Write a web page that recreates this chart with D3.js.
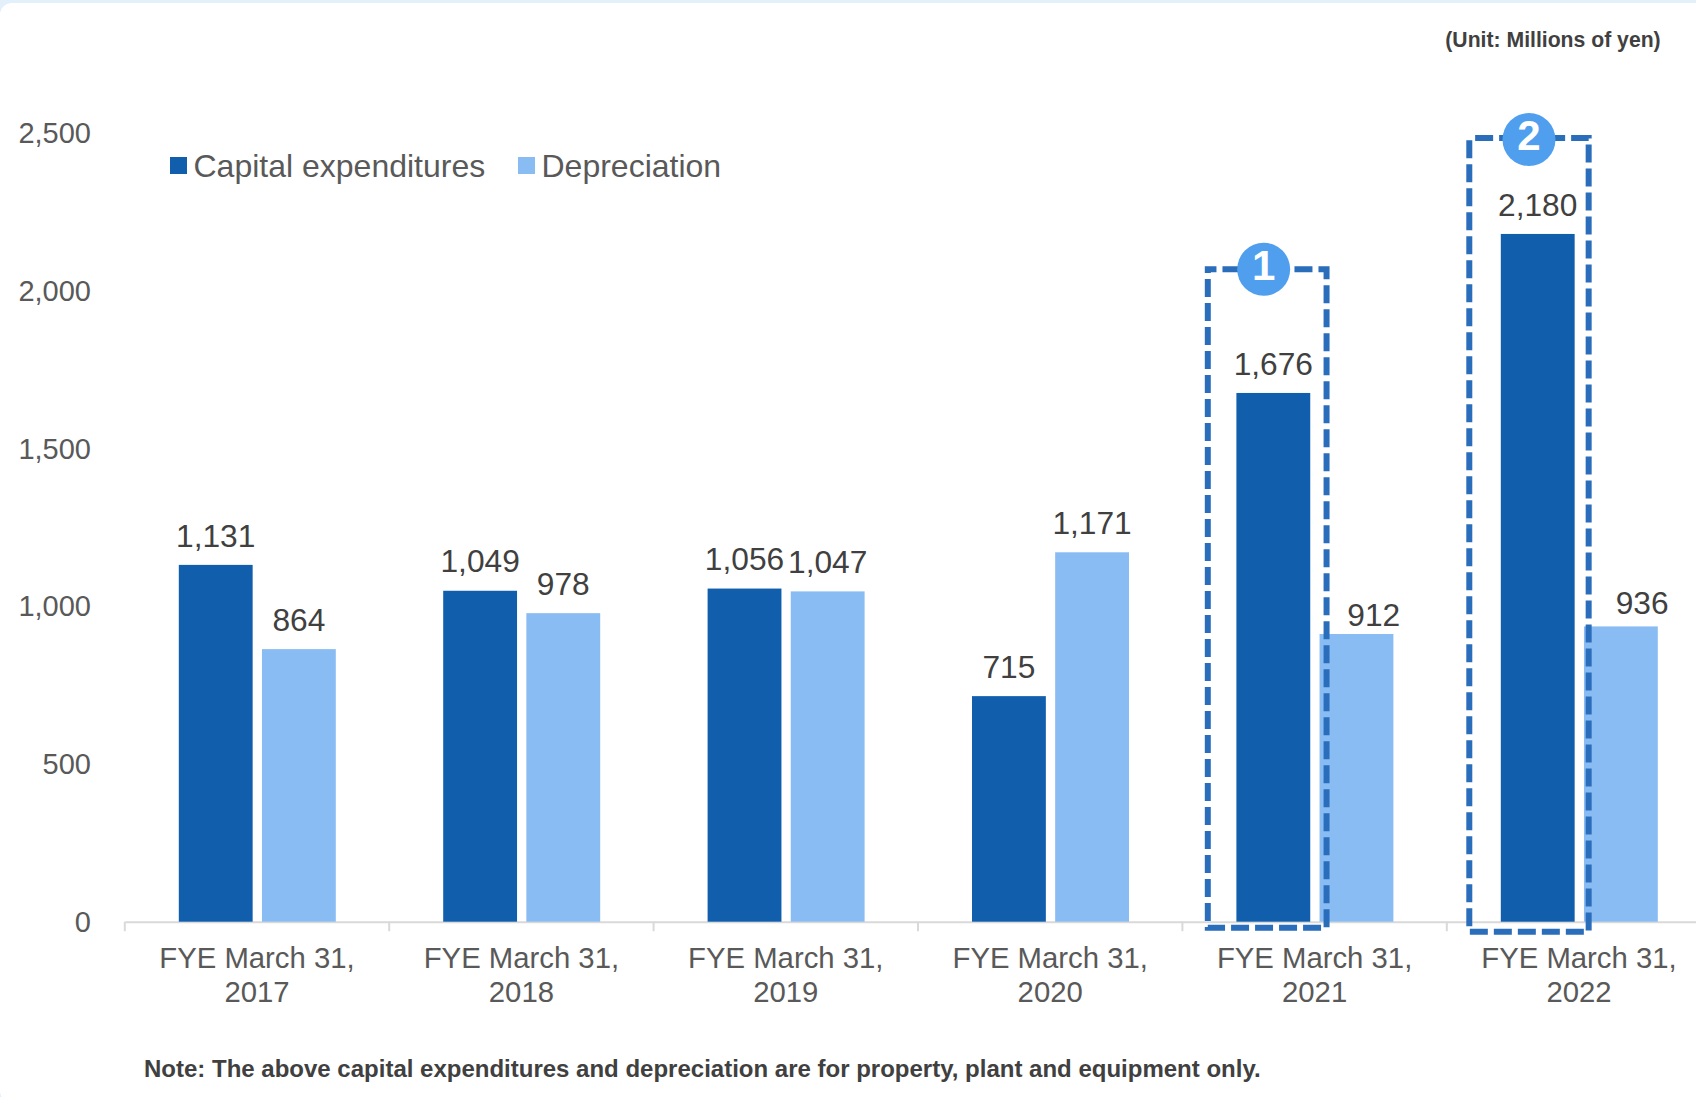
<!DOCTYPE html>
<html>
<head>
<meta charset="utf-8">
<script src="https://cdn.jsdelivr.net/npm/d3@7"></script>
<style>
html, body { margin: 0; padding: 0; background: #E3F0FC; overflow: hidden; }
text { font-family: "Liberation Sans", Arial, sans-serif; }
</style>
</head>
<body>
<div id="chart"></div>
<script>
const categories = ["2017", "2018", "2019", "2020", "2021", "2022"];
const seriesNames = ["Capital expenditures", "Depreciation"];
const capex = [1131, 1049, 1056, 715, 1676, 2180];
const depreciation = [864, 978, 1047, 1171, 912, 936];
const yTicks = [0, 500, 1000, 1500, 2000, 2500];
const highlightYears = ["2021", "2022"];
const highlightLabels = ["1", "2"];
const highlightTops = [2068, 2484];

const svgAttr = { width: 1696, height: 1097 };
const plot = { left: 124.8, right: 1711.2, top: 133, bottom: 921.7 };
const colors = {
    capex: "#115EAC",
    depreciation: "#8ABCF4",
    dash: "#2A6EBB",
    badge: "#4F9FEE",
    axis: "#D9D9D9",
    tick: "#595959",
    value: "#404040"
};

// the two depreciation labels pushed aside by the dashed boxes
const labelNudge = { 912: [17.3, 10.8], 936: [21.3, 6.3] };

const svg = d3.select("#chart")
              .append("svg")
              .attr("width", svgAttr.width)
              .attr("height", svgAttr.height)
              .style("display", "block");

// white card on the pale blue page
svg.append("rect")
   .attr("x", 0)
   .attr("y", 3)
   .attr("width", svgAttr.width + 20)
   .attr("height", svgAttr.height + 3)
   .attr("rx", 12)
   .attr("fill", "#FFFFFF");

const x0 = d3.scaleBand()
             .domain(categories)
             .range([plot.left, plot.right]);

const x1 = d3.scaleBand()
             .domain(seriesNames)
             .range([54, x0.bandwidth() - 53.4])
             .paddingInner(0.112);

const y = d3.scaleLinear()
            .domain([0, 2500])
            .range([plot.bottom, plot.top]);

// y axis
const yAxis = svg.append("g")
                 .attr("transform", `translate(${plot.left},0)`)
                 .call(d3.axisLeft(y).tickValues(yTicks).tickSize(0).tickPadding(33.8).tickFormat(d3.format(",")));
yAxis.select(".domain").remove();
yAxis.selectAll("text")
     .attr("dy", "0.33em")
     .attr("font-size", 29)
     .attr("fill", colors.tick)
     .style("font-family", '"Liberation Sans", Arial, sans-serif');

// x axis, the ticks sit on the band edges
const xAxis = svg.append("g")
                 .attr("transform", `translate(0,${plot.bottom})`)
                 .call(d3.axisBottom(x0).tickSize(0).tickFormat(""));
xAxis.select(".domain")
     .attr("stroke", colors.axis)
     .attr("stroke-width", 2);
xAxis.selectAll(".tick text").remove();

categories.forEach(d => {
    xAxis.append("line")
         .attr("x1", x0(d))
         .attr("x2", x0(d))
         .attr("y1", 0)
         .attr("y2", 9.5)
         .attr("stroke", colors.axis)
         .attr("stroke-width", 2);

    const label = xAxis.append("text")
                       .attr("text-anchor", "middle")
                       .attr("font-size", 29.3)
                       .attr("fill", colors.tick);
    label.append("tspan")
         .attr("x", x0(d) + x0.bandwidth() / 2)
         .attr("y", 46)
         .text("FYE March 31,");
    label.append("tspan")
         .attr("x", x0(d) + x0.bandwidth() / 2)
         .attr("y", 80.5)
         .text(d);
});

// bars and their value labels
const seriesValues = [capex, depreciation];
const seriesColors = [colors.capex, colors.depreciation];

seriesNames.forEach((name, s) => {
    svg.append("g")
       .selectAll("rect")
       .data(seriesValues[s])
       .join("rect")
       .attr("x", (d, i) => x0(categories[i]) + x1(name))
       .attr("y", d => y(d))
       .attr("width", x1.bandwidth())
       .attr("height", d => y(0) - y(d))
       .attr("fill", seriesColors[s]);

    svg.append("g")
       .selectAll("text")
       .data(seriesValues[s])
       .join("text")
       .attr("x", (d, i) => x0(categories[i]) + x1(name) + x1.bandwidth() / 2 + (labelNudge[d] ? labelNudge[d][0] : 0))
       .attr("y", d => y(d) - 18.3 + (labelNudge[d] ? labelNudge[d][1] : 0))
       .attr("text-anchor", "middle")
       .attr("font-size", 31.7)
       .attr("fill", colors.value)
       .text(d3.format(","));
});

// dashed highlight boxes with the numbered badges
const dashPhase = [9.33, 18.17];
highlightYears.forEach((year, i) => {
    const left = x0(year) + x1(seriesNames[0]) - 28.6 + (i ? -2.9 : 0);
    const right = x0(year) + x1(seriesNames[1]) + (i ? 4.7 : 7);
    const top = y(highlightTops[i]);
    const bottom = plot.bottom + (i ? 10 : 6);

    svg.append("rect")
       .attr("x", left)
       .attr("y", top)
       .attr("width", right - left)
       .attr("height", bottom - top)
       .attr("fill", "none")
       .attr("stroke", colors.dash)
       .attr("stroke-width", 6)
       .attr("stroke-dasharray", "18 6")
       .attr("stroke-dashoffset", dashPhase[i]);

    const cx = (left + right) / 2 + (i ? 0 : -3.5);
    svg.append("circle")
       .attr("cx", cx)
       .attr("cy", top + (i ? 1.5 : 0))
       .attr("r", 26.5)
       .attr("fill", colors.badge);

    svg.append("text")
       .attr("x", cx)
       .attr("y", top + (i ? 12.4 : 10.7))
       .attr("text-anchor", "middle")
       .attr("font-size", 42)
       .attr("font-weight", "bold")
       .attr("fill", "#FFFFFF")
       .text(highlightLabels[i]);
});

// legend
const legend = svg.append("g");
const legendSwatchX = [170, 518];
seriesNames.forEach((name, i) => {
    legend.append("rect")
          .attr("x", legendSwatchX[i])
          .attr("y", 157)
          .attr("width", 17)
          .attr("height", 17)
          .attr("fill", seriesColors[i]);
    legend.append("text")
          .attr("x", legendSwatchX[i] + 23.5)
          .attr("y", 176.5)
          .attr("font-size", 32)
          .attr("fill", colors.tick)
          .text(name);
});

svg.append("text")
   .attr("x", 1660.7)
   .attr("y", 47)
   .attr("text-anchor", "end")
   .attr("font-size", 21.2)
   .attr("font-weight", "bold")
   .attr("fill", colors.value)
   .text("(Unit: Millions of yen)");

svg.append("text")
   .attr("x", 144)
   .attr("y", 1076.7)
   .attr("font-size", 24)
   .attr("font-weight", "bold")
   .attr("fill", colors.value)
   .text("Note: The above capital expenditures and depreciation are for property, plant and equipment only.");
</script>
</body>
</html>
